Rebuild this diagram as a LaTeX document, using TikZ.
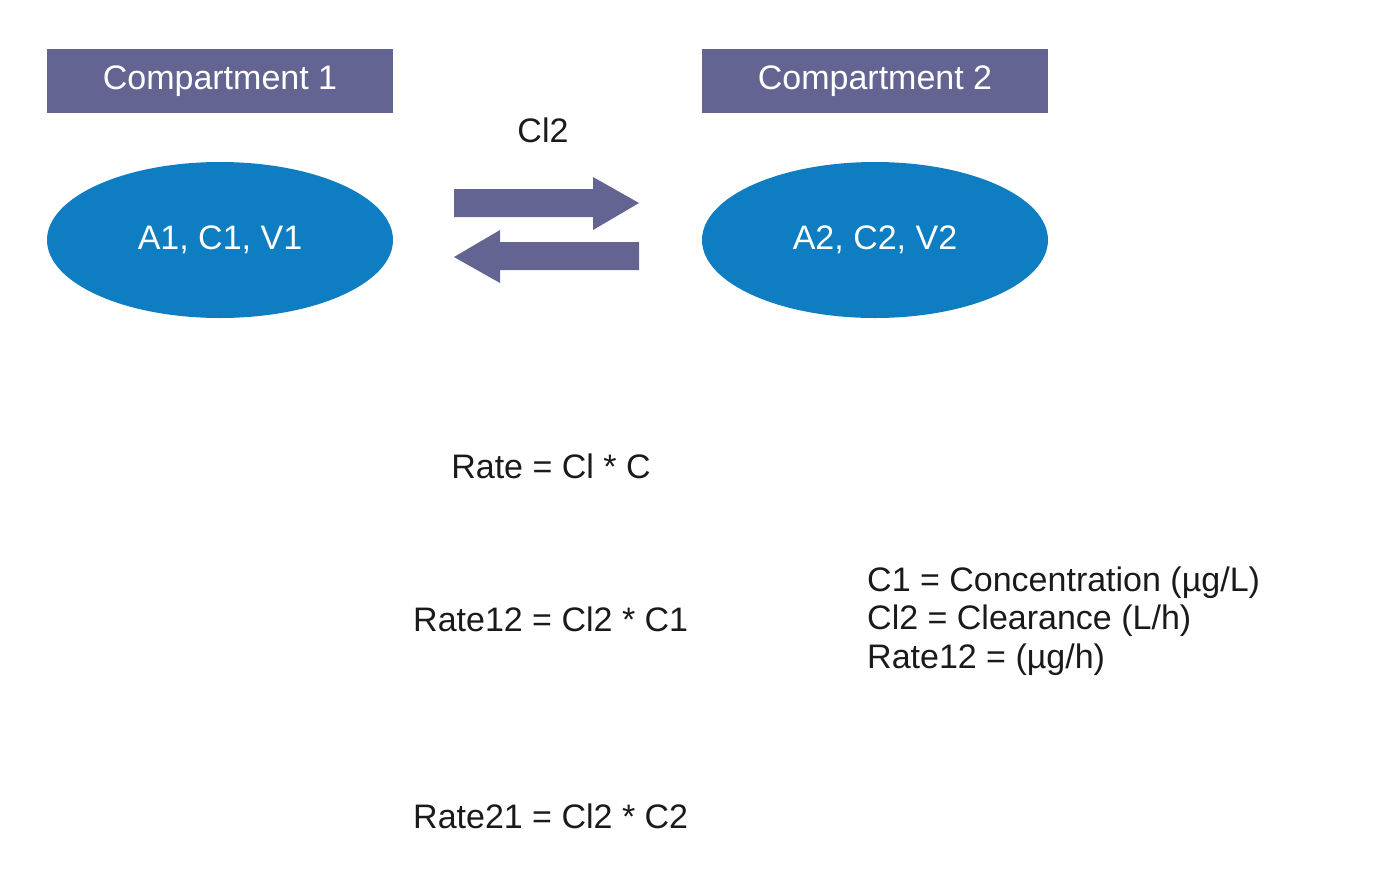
\documentclass[tikz,border=0pt]{standalone}
\usepackage{fontspec}
\setmainfont{Liberation Sans}
\usepackage{xcolor}
\usetikzlibrary{shapes,calc}
\definecolor{headcol}{HTML}{646492}
\definecolor{compcol}{HTML}{0E7DC1}
\definecolor{textcol}{HTML}{1A1A1A}
\begin{document}
\begin{tikzpicture}[x=1pt,y=-1pt]
            \tikzstyle{header}=[fill=headcol, text=white, minimum width=346pt, minimum height=64pt, inner sep=0pt, font=\fontsize{34}{38}\selectfont];
            \tikzstyle{compartment}=[ellipse, fill=compcol, text=white, minimum width=346pt, minimum height=156pt, inner sep=0pt, font=\fontsize{34}{38}\selectfont];
            \tikzstyle{flow}=[fill=headcol];
            \tikzstyle{formula}=[text=textcol, inner sep=0pt, font=\fontsize{34}{38.5}\selectfont];
            % Fix the page to the size of the picture
            \useasboundingbox (0,0) rectangle (1394,868);

            % Header boxes for the two compartments
            \node[header] (h1) at (220,81) {Compartment 1};
            \node[header] (h2) at (875,81) {Compartment 2};

            % The two compartments
            \node[compartment] (c1) at (220,240) {A1, C1, V1};
            \node[compartment] (c2) at (875,240) {A2, C2, V2};

            % Exchange arrows between the compartments
            \fill[flow] (454,189) -- (593,189) -- (593,177) -- (639,203) -- (593,230) -- (593,217) -- (454,217) -- cycle;
            \fill[flow] (639,242) -- (500,242) -- (500,230) -- (454,257) -- (500,283) -- (500,270) -- (639,270) -- cycle;
            \node[formula] (cl) at (543,130) {Cl2};

            % Rate equations
            \node[formula] (rate) at (551,466) {Rate = Cl * C};
            \node[formula, anchor=west] (r12) at (413,619) {Rate12 = Cl2 * C1};
            \node[formula, anchor=west] (r21) at (413,816) {Rate21 = Cl2 * C2};

            % Units
            \node[formula, anchor=west, align=left] (units) at (867,621) {C1 = Concentration (µg/L)\\Cl2 = Clearance (L/h)\\Rate12 = (µg/h)};
        \end{tikzpicture}
\end{document}
